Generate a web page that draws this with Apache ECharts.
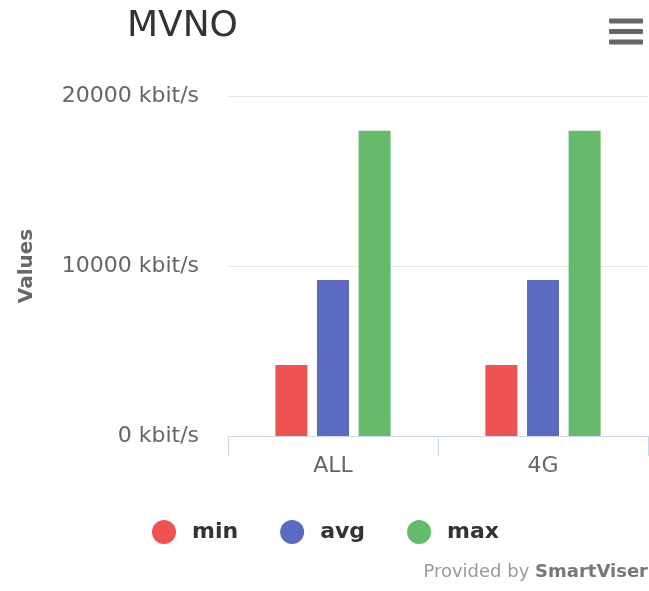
<!DOCTYPE html>
<html>
<head>
<meta charset="utf-8">
<script src="https://cdn.jsdelivr.net/npm/echarts@6/dist/echarts.min.js"></script>
<style>
html,body{margin:0;padding:0;background:#fff;}
#chart{width:649px;height:591px;}
</style>
</head>
<body>
<div id="chart"></div>
<script>
const categories = ['ALL', '4G'];
const seriesNames = ['min', 'avg', 'max'];
const minValues = [4180, 4180];
const avgValues = [9180, 9180];
const maxValues = [17950, 17950];
const yTicks = [0, 10000, 20000];
const colors = ['#ef5350', '#5c6bc0', '#66bb6a'];

const FONT = '"DejaVu Sans", sans-serif';
const chart = echarts.init(document.getElementById('chart'), null, {renderer: 'canvas'});
const values = [minValues, avgValues, maxValues];

chart.setOption({
  animation: false,
  textStyle: {fontFamily: FONT},
  title: {
    text: 'MVNO',
    left: 122,
    top: 4,
    textStyle: {fontFamily: FONT, fontSize: 36, fontWeight: 'normal', color: '#333'}
  },
  legend: {
    data: seriesNames,
    left: 147,
    top: 515,
    icon: 'circle',
    itemWidth: 24,
    itemHeight: 24,
    itemGap: 42,
    textStyle: {fontFamily: FONT, fontSize: 22, fontWeight: 'bold', color: '#333', padding: [0, 0, 0, 11]}
  },
  grid: {left: 228, right: 1, top: 96, bottom: 155, outerBoundsMode: 'none', containLabel: false},
  xAxis: {
    type: 'category',
    data: categories,
    axisLine: {lineStyle: {color: '#ccd6eb', width: 1}},
    axisTick: {show: true, length: 20, lineStyle: {color: '#ccd6eb'}},
    axisLabel: {fontFamily: FONT, fontSize: 22, color: '#666', margin: 19}
  },
  yAxis: {
    type: 'value',
    min: yTicks[0],
    max: yTicks[yTicks.length - 1],
    interval: yTicks[1] - yTicks[0],
    name: 'Values',
    nameLocation: 'middle',
    nameRotate: 90,
    nameGap: 191,
    nameTextStyle: {fontFamily: FONT, fontSize: 20, fontWeight: 'bold', color: '#666'},
    axisLine: {show: false},
    axisTick: {show: false},
    splitLine: {lineStyle: {color: '#e6e6e6', width: 1}},
    axisLabel: {fontFamily: FONT, fontSize: 22, color: '#666', margin: 29, formatter: v => v + ' kbit/s'}
  },
  series: seriesNames.map((n, i) => ({
    name: n,
    type: 'bar',
    data: values[i],
    barWidth: 32,
    barGap: '30%',
    itemStyle: {color: colors[i]}
  })),
  graphic: [
    {type: 'rect', shape: {x: 609, y: 18.5, width: 34, height: 5, r: 1}, style: {fill: '#666'}},
    {type: 'rect', shape: {x: 609, y: 29, width: 34, height: 5, r: 1}, style: {fill: '#666'}},
    {type: 'rect', shape: {x: 609, y: 39.5, width: 34, height: 5, r: 1}, style: {fill: '#666'}},
    {
      type: 'text',
      x: 648,
      y: 572,
      style: {
        text: '{a|Provided by }{b|SmartViser}',
        align: 'right',
        verticalAlign: 'middle',
        rich: {
          a: {fontFamily: FONT, fontSize: 18, fill: '#999'},
          b: {fontFamily: FONT, fontSize: 18, fill: '#777', fontWeight: 'bold'}
        }
      }
    }
  ]
});
</script>
</body>
</html>
